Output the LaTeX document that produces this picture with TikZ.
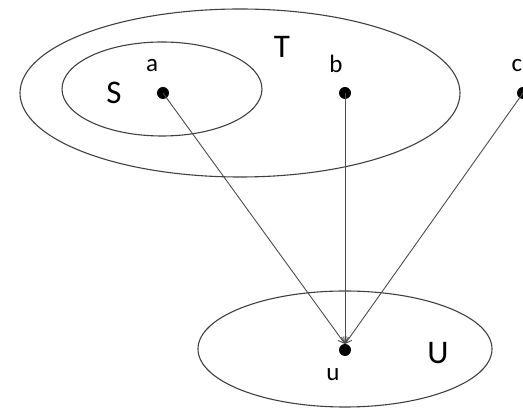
\documentclass[tikz,border=0pt]{standalone}
\usepackage{fontspec}
\setmainfont{Carlito}
\usetikzlibrary{arrows.meta}
\begin{document}
\begin{tikzpicture}[x=1pt,y=-1pt,
  setline/.style={draw=black!75, line width=1.1pt},
  dotnode/.style={circle, fill=black, inner sep=0pt, minimum size=12pt},
  small/.style={font=\fontsize{25}{27}\selectfont, inner sep=0pt},
  big/.style={font=\fontsize{33}{35}\selectfont, inner sep=0pt},
  conn/.style={draw=black!70, line width=0.9pt, -{Straight Barb[length=6pt,width=7pt]}}]
\useasboundingbox (0,0) rectangle (523,411);
\draw[setline] (240,93) ellipse [x radius=220, y radius=84];
\draw[setline] (162,89) ellipse [x radius=100, y radius=47];
\draw[setline] (345,349) ellipse [x radius=147, y radius=58];
\node[dotnode] (a) at (163,93) {};
\node[dotnode] (b) at (345,93) {};
\node[dotnode] (c) at (523,93) {};
\node[dotnode] (u) at (345,350) {};
\coordinate (ut) at (345,344);
\node[small] (la) at (152,66) {a};
\node[small] (lb) at (336,64) {b};
\node[small] (lc) at (517,66) {c};
\node[small] (lu) at (333,375) {u};
\node[big] (lS) at (114,93) {S};
\node[big] (lT) at (282,47) {T};
\node[big] (lU) at (438,353) {U};
\draw[conn] (a.center) -- (ut);
\draw[conn] (b.center) -- (ut);
\draw[conn] (c.center) -- (ut);
\end{tikzpicture}
\end{document}
